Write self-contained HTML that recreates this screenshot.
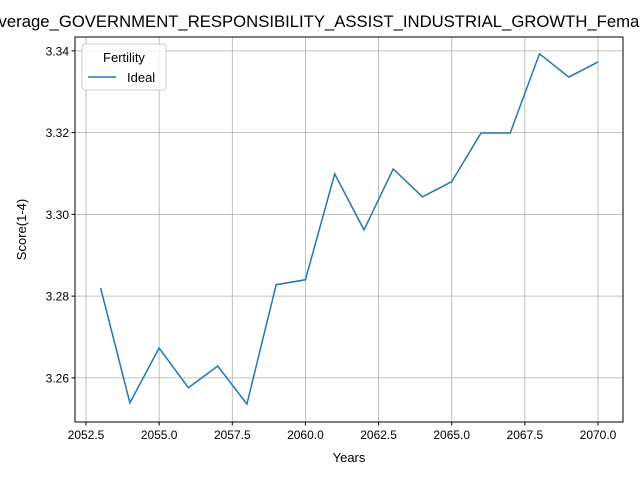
<!DOCTYPE html>
<html><head><meta charset="utf-8"><style>
body{margin:0;background:#fff;}
svg{display:block;font-family:"Liberation Sans","DejaVu Sans",sans-serif;}
</style></head><body>
<svg id="chart" width="640" height="480" viewBox="0 0 640 480">
<rect width="640" height="480" fill="#fff"/>
<text x="320" y="27" text-anchor="middle" font-size="16.7">Average_GOVERNMENT_RESPONSIBILITY_ASSIST_INDUSTRIAL_GROWTH_Female</text>
<g id="grid"></g>
<g id="xticks"></g>
<g id="yticks"></g>
<path id="series" fill="none" stroke="#1f77b4" stroke-width="1.5"/>
<rect x="75" y="37" width="548" height="385" fill="none" stroke="#000" stroke-width="1"/>
<text x="349" y="462" text-anchor="middle" font-size="13">Years</text>
<text transform="translate(26,229.5) rotate(-90)" text-anchor="middle" font-size="13">Score(1-4)</text>
<g>
<rect x="82" y="44" width="84" height="46" rx="3" fill="#fff" fill-opacity="0.8" stroke="#ccc"/>
<text x="124" y="62" text-anchor="middle" font-size="13">Fertility</text>
<line x1="88" y1="77" x2="116" y2="77" stroke="#1f77b4" stroke-width="1.5"/>
<text x="127" y="82" font-size="13">Ideal</text>
</g>
</svg>
<script>
const years=[2053,2054,2055,2056,2057,2058,2059,2060,2061,2062,2063,2064,2065,2066,2067,2068,2069,2070];
const values=[3.2820,3.2539,3.2673,3.2576,3.2629,3.2536,3.2828,3.2840,3.3099,3.2962,3.3111,3.3043,3.3080,3.3199,3.3199,3.3393,3.3336,3.3373];
const xTicks=[2052.5,2055.0,2057.5,2060.0,2062.5,2065.0,2067.5,2070.0];
const yTicks=[3.26,3.28,3.30,3.32,3.34];
const L=75,R=623,T=37,B=422;
const xMin=2052.124,xMax=2070.854,yMin=3.2492,yMax=3.3434;
const sx=v=>L+(v-xMin)/(xMax-xMin)*(R-L);
const sy=v=>B-(v-yMin)/(yMax-yMin)*(B-T);
const NS="http://www.w3.org/2000/svg";
const grid=document.getElementById('grid'),xg=document.getElementById('xticks'),yg=document.getElementById('yticks');
function mk(tag,attrs,parent){const e=document.createElementNS(NS,tag);for(const k in attrs)e.setAttribute(k,attrs[k]);parent.appendChild(e);return e;}
xTicks.forEach(t=>{const x=sx(t);
const g=mk('line',{x1:x,x2:x,y1:T,y2:B,stroke:'#b0b0b0','stroke-width':0.8},grid);


const tk=mk('line',{x1:x,x2:x,y1:B,y2:B+3.5,stroke:'#000'},xg);


const tx=mk('text',{x:x,y:B+17,'text-anchor':'middle','font-size':12},xg);tx.textContent=t.toFixed(1);


});
yTicks.forEach(t=>{const y=sy(t);
const g=mk('line',{x1:L,x2:R,y1:y,y2:y,stroke:'#b0b0b0','stroke-width':0.8},grid);


const tk=mk('line',{x1:L-3.5,x2:L,y1:y,y2:y,stroke:'#000'},yg);


const tx=mk('text',{x:L-6,y:y+4.5,'text-anchor':'end','font-size':12},yg);tx.textContent=t.toFixed(2);


});
document.getElementById('series').setAttribute('d',years.map((y,i)=>(i?'L':'M')+sx(y).toFixed(1)+','+sy(values[i]).toFixed(1)).join(''));
</script>
</body></html>
